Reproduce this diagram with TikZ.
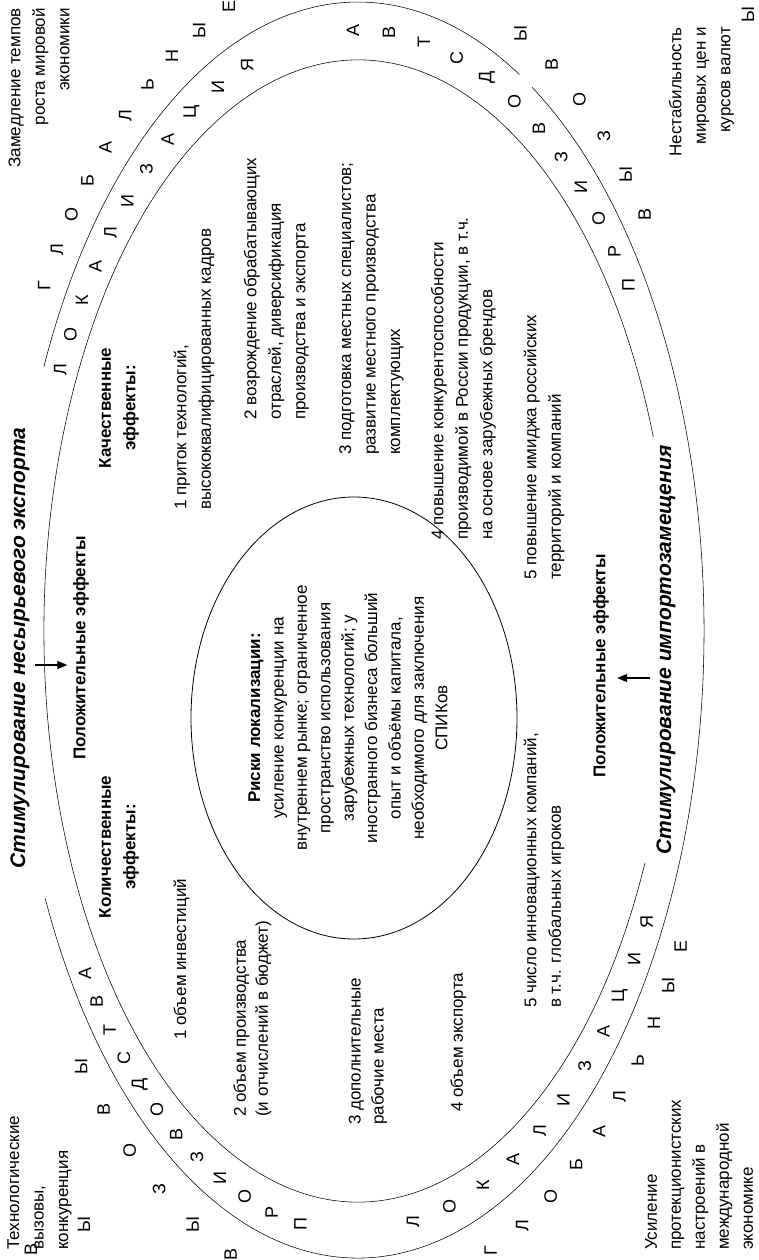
\documentclass[tikz,border=0pt]{standalone}
\usepackage{fontspec}
\setmainfont{Liberation Sans}
\usetikzlibrary{arrows.meta,decorations.markings,shapes.geometric}
\newcommand\arcword[6]{%
  \foreach \ch [count=\k from 0] in {#6}{%
    \pgfmathsetmacro\fr{\k/#5*0.9999}%
    \path[decorate,decoration={markings,mark=at position {\fr} with {\node[ltr] (#1\k) {\ch};}}]
      (358,630) ++({#3}:{#2*346} and {#2*628}) arc[start angle={#3},end angle={#4},x radius={#2*346},y radius={#2*628}];
  }}
\begin{document}
\begin{tikzpicture}[x=1pt,y=-1pt,
  txt/.style={rotate=90,inner sep=0pt,font=\fontsize{17}{24.5}\selectfont},
  bld/.style={rotate=90,inner sep=0pt,font=\fontsize{17}{24.5}\selectfont\bfseries},
  ttl/.style={rotate=90,inner sep=0pt,font=\fontsize{21}{24}\selectfont\bfseries\itshape},
  ltr/.style={rotate=90,inner sep=0pt,font=\fontsize{18}{18}\selectfont},
  ring/.style={line width=0.55pt},
  arr/.style={line width=1.2pt,-{Triangle[length=10pt,width=8pt]}}]
\useasboundingbox (0,0) rectangle (758,1260);
\fill[white] (0,0) rectangle (758,1260);

% big rings
\draw[ring] (358,630) ++(-155.2:346 and 628) arc[start angle=-155.2,end angle=-62.2,x radius=346,y radius=628];
\draw[ring] (358,630) ++(-59.8:346 and 628) arc[start angle=-59.8,end angle=154.7,x radius=346,y radius=628];
\draw[ring] (358,631) ++(24:314 and 571) arc[start angle=24,end angle=340.1,x radius=314,y radius=571];

% centre
\node[draw,ellipse,line width=0.8pt,minimum width=326pt,minimum height=442pt,inner sep=0pt] (risk) at (354,718) {};
\node[rotate=90,inner sep=0pt,align=center,font=\fontsize{17}{23.4}\selectfont] (risktext) at (348,718)
  {\textbf{Риски локализации:}\\усиление конкуренции на\\внутреннем рынке; ограниченное\\пространство использования\\зарубежных технологий; у\\иностранного бизнеса больший\\опыт и объёмы капитала,\\необходимого для заключения\\СПИКов};

% corner texts
\node[txt,align=right,anchor=east] (slow) at (39,8) {Замедление темпов\\роста мировой\\экономики};
\node[txt,align=right,anchor=east] (instab) at (701.5,27) {Нестабильность\\мировых цен и\\курсов валют};
\node[txt,align=left,anchor=west] (tech) at (39.5,1250) {Технологические\\вызовы,\\конкуренция};
\node[txt,align=left,anchor=west,font=\fontsize{17}{24}\selectfont] (prot) at (699,1250) {Усиление\\протекционистских\\настроений в\\международной\\экономике};

% titles
\node[ttl] (exp) at (20,648) {Стимулирование несырьевого экспорта};
\node[ttl] (imp) at (666,650) {Стимулирование импортозамещения};
\node[bld] (posTop) at (81,648) {Положительные эффекты};
\node[bld] (posBot) at (601,666) {Положительные эффекты};
\node[bld,align=center] (kol) at (119,847) {Количественные\\эффекты:};
\node[bld,align=center] (kach) at (119,408) {Качественные\\эффекты:};

% qualitative items
\node[txt,align=left,anchor=west] (q1) at (194,510) {1 приток технологий,\\высококвалифицированных кадров};
\node[txt,align=left,anchor=west] (q2) at (276.5,420) {2 возрождение обрабатывающих\\отраслей, диверсификация\\производства и экспорта};
\node[txt,align=left,anchor=west] (q3) at (371.5,455) {3 подготовка местных специалистов;\\развитие местного производства\\комплектующих};
\node[txt,align=left,anchor=west] (q4) at (463.5,540) {4 повышение конкурентоспособности\\производимой в России продукции, в т.ч.\\на основе зарубежных брендов};
\node[txt,align=left,anchor=west] (q5) at (544,580) {5 повышение имиджа российских\\территорий и компаний};

% quantitative items
\node[txt,align=left,anchor=west] (k1) at (181.5,1040) {1 объем инвестиций};
\node[txt,align=left,anchor=west,font=\fontsize{17}{22}\selectfont] (k2) at (252.5,1117) {2 объем производства\\(и отчислений в бюджет)};
\node[txt,align=left,anchor=west,font=\fontsize{17}{23}\selectfont] (k3) at (368,1125) {3 дополнительные\\рабочие места};
\node[txt,align=left,anchor=west] (k4) at (458.5,1112) {4 объем экспорта};
\node[txt,align=left,anchor=west] (k5) at (544,1008) {5 число инновационных компаний,\\в т.ч. глобальных игроков};

% arrows
\coordinate (ta) at (35,665);
\draw[arr,shorten >=5.5pt] (ta) -- (ta -| posTop.north);
\coordinate (ba) at (650,678);
\draw[arr,shorten >=8pt] (ba) -- (ba -| posBot.south);

% arc letters
\arcword{a}{1.06}{211.2}{249.4}{9}{Г,Л,О,Б,А,Л,Ь,Н,Ы,Е}
\arcword{b}{0.955}{205.7}{250.4}{10}{Л,О,К,А,Л,И,З,А,Ц,И,Я}
\arcword{c}{0.955}{-35.1}{-90.9}{11}{П,Р,О,И,З,В,О,Д,С,Т,В,А}
\arcword{d}{1.06}{-38.6}{-63.7}{5}{В,Ы,З,О,В,Ы}
\arcword{e}{1.06}{68.8}{28.4}{9}{Г,Л,О,Б,А,Л,Ь,Н,Ы,Е}
\arcword{f}{0.955}{80.4}{29.1}{10}{Л,О,К,А,Л,И,З,А,Ц,И,Я}
\arcword{g}{0.96}{100}{145.3}{11}{П,Р,О,И,З,В,О,Д,С,Т,В,А}
\arcword{h}{1.06}{110.3}{139}{5}{В,Ы,З,О,В,Ы}
\node[ltr] (cB) at (31,1249) {В};
\node[ltr] (cY) at (84,1225) {Ы};
\node[ltr] (cY2) at (748,15) {Ы};
\end{tikzpicture}
\end{document}
